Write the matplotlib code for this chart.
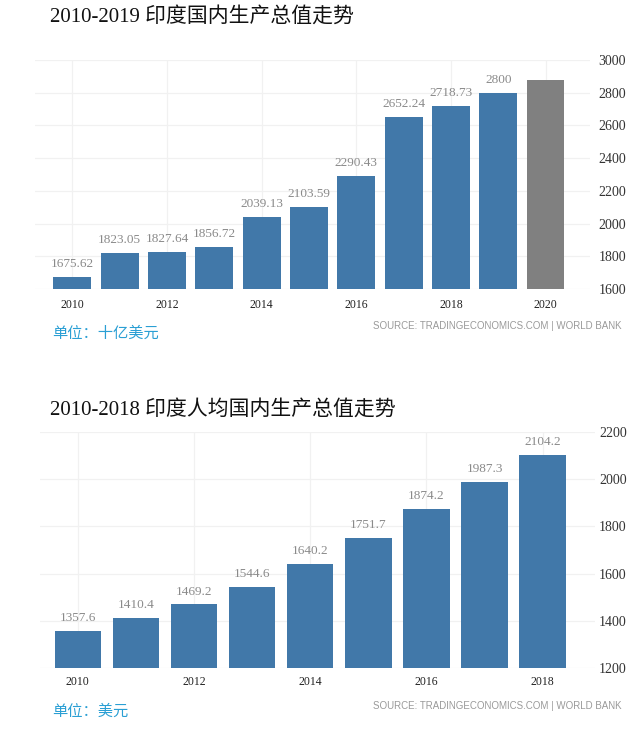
import matplotlib
matplotlib.use("Agg")
import matplotlib.pyplot as plt

# top chart: GDP, billion USD
gdp_years = [2010, 2011, 2012, 2013, 2014, 2015, 2016, 2017, 2018, 2019, 2020]
gdp_values = [1675.62, 1823.05, 1827.64, 1856.72, 2039.13, 2103.59, 2290.43, 2652.24, 2718.73, 2800, 2880]
gdp_labels = ["1675.62", "1823.05", "1827.64", "1856.72", "2039.13", "2103.59",
              "2290.43", "2652.24", "2718.73", "2800", ""]
gdp_colors = ["#4178a9"] * 10 + ["#808080"]
gdp_ticks = [1600, 1800, 2000, 2200, 2400, 2600, 2800, 3000]

# bottom chart: GDP per capita, USD
pc_years = [2010, 2011, 2012, 2013, 2014, 2015, 2016, 2017, 2018]
pc_values = [1357.6, 1410.4, 1469.2, 1544.6, 1640.2, 1751.7, 1874.2, 1987.3, 2104.2]
pc_labels = ["1357.6", "1410.4", "1469.2", "1544.6", "1640.2", "1751.7", "1874.2", "1987.3", "2104.2"]
pc_ticks = [1200, 1400, 1600, 1800, 2000, 2200]

W, H = 644, 729
SERIF_CJK = ["Liberation Serif", "Noto Sans CJK SC"]
CJK = ["Noto Sans CJK SC", "DejaVu Sans"]

fig = plt.figure(figsize=(W / 100, H / 100), dpi=100)
fig.patch.set_facecolor("white")


def px(x, y):
    return x / W, 1 - y / H


def bar_chart(ax, years, values, labels, colors, ticks, xlim, ypad, ylabel_pad, xlabel_pad):
    ax.bar(years, values, width=0.8, color=colors, zorder=2)
    ax.set_ylim(ticks[0], ticks[-1])
    ax.set_xlim(*xlim)
    for x, v, t in zip(years, values, labels):
        ax.annotate(t, (x, v), xytext=(0, ypad), textcoords="offset points",
                    ha="center", va="bottom", fontsize=9.5, color="#8a8a8a",
                    family="Liberation Serif")
    ax.yaxis.tick_right()
    ax.set_yticks(ticks)
    ax.set_yticklabels([str(t) for t in ticks], family="Liberation Serif", fontsize=10, color="#333333")
    even = [y for y in years if y % 2 == 0]
    ax.set_xticks(even)
    ax.set_xticklabels([str(y) for y in even], family="Liberation Serif", fontsize=8.5, color="#222222")
    ax.tick_params(axis="y", length=0, pad=ylabel_pad)
    ax.tick_params(axis="x", length=0, pad=xlabel_pad)
    ax.grid(True, color="#f1f1f1", linewidth=0.9, zorder=0)
    for s in ax.spines.values():
        s.set_visible(False)
    ax.set_facecolor("white")


# top chart
ax1 = fig.add_axes([35 / W, (H - 289) / H, 555 / W, 229 / H])
bar_chart(ax1, gdp_years, gdp_values, gdp_labels, gdp_colors, gdp_ticks,
          (2009.21, 2020.94), 5, 6, 7)
fig.text(*px(50, 17), "2010-2019 印度国内生产总值走势", family=SERIF_CJK,
         fontsize=15, color="#111111", va="center", ha="left")
fig.text(*px(52, 333), "单位：十亿美元", family=CJK, fontsize=11,
         color="#2a9fd4", va="center", ha="left")
fig.text(*px(622, 326), "SOURCE: TRADINGECONOMICS.COM | WORLD BANK",
         family="Liberation Sans", fontsize=7, color="#9a9a9a", va="center", ha="right")

# bottom chart
ax2 = fig.add_axes([40 / W, (H - 668) / H, 555 / W, 236 / H])
bar_chart(ax2, pc_years, pc_values, pc_labels, ["#4178a9"] * len(pc_years), pc_ticks,
          (2009.35, 2018.9), 5, 3, 6)
fig.text(*px(50, 410), "2010-2018 印度人均国内生产总值走势", family=SERIF_CJK,
         fontsize=15, color="#111111", va="center", ha="left")
fig.text(*px(52, 711), "单位：美元", family=CJK, fontsize=11,
         color="#2a9fd4", va="center", ha="left")
fig.text(*px(622, 706), "SOURCE: TRADINGECONOMICS.COM | WORLD BANK",
         family="Liberation Sans", fontsize=7, color="#9a9a9a", va="center", ha="right")

fig.savefig("out.png", dpi=100, facecolor="white")
